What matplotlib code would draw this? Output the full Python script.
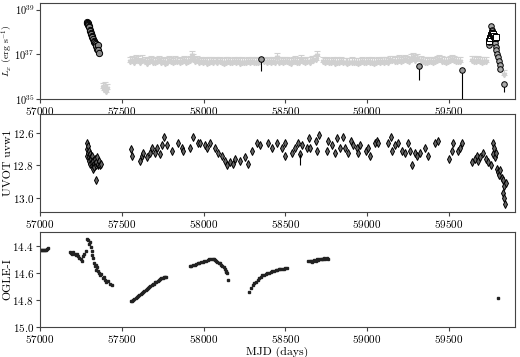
import matplotlib
matplotlib.use('Agg')
import matplotlib.pyplot as plt
import numpy as np

plt.rcParams['font.family'] = ['cmr10', 'DejaVu Serif']
plt.rcParams['mathtext.fontset'] = 'cm'
plt.rcParams['axes.formatter.use_mathtext'] = True
plt.rcParams['font.size'] = 8.5

# ---- X-ray (top) ----
# early outburst detections, log10 L
xr1_mjd = [57287, 57289, 57291, 57293, 57295, 57297, 57300, 57303, 57306, 57309, 57312,
           57316, 57320, 57324, 57328, 57332, 57336, 57340, 57344, 57348, 57352, 57356, 57362]
xr1_logL = [38.45, 38.40, 38.42, 38.35, 38.30, 38.25, 38.20, 38.10, 38.05, 37.95, 37.90,
            37.80, 37.75, 37.70, 37.60, 37.55, 37.50, 37.45, 37.35, 37.25, 37.40, 37.20, 37.05]

# isolated detections with long error bars
iso_mjd = [58351, 59317, 59580]
iso_logL = [36.80, 36.48, 36.30]
iso_lo = [36.26, 35.85, 35.0]

# late outburst circles
xr2_mjd = [59743, 59745, 59760, 59763, 59766, 59770, 59775, 59780, 59785, 59790, 59795,
           59800, 59805, 59810, 59815, 59836]
xr2_logL = [37.40, 37.55, 38.25, 38.10, 38.02, 37.80, 37.65, 37.50, 37.33, 37.18, 37.03,
            36.88, 36.70, 36.54, 36.36, 35.67]
xr2_lo = [None] * 15 + [35.33]

# late outburst squares
sq_mjd = [59745, 59750, 59756, 59762, 59768, 59775, 59782, 59790]
sq_logL = [37.60, 37.73, 37.88, 37.95, 37.90, 37.80, 37.73, 37.78]

# upper limits (units of 1e36 erg/s)
ul_mjd = [57385, 57392, 57398, 57404, 57410,
          57550, 57562, 57575, 57588, 57600, 57613, 57625, 57640, 57652, 57665, 57678, 57690,
          57703, 57716, 57728, 57740, 57752, 57765, 57778, 57790, 57803, 57815, 57828, 57840,
          57853, 57866, 57878, 57890, 57903, 57915, 57927, 57935, 57948, 57960, 57973, 57985,
          57998, 58010, 58022, 58035, 58048, 58060, 58073, 58085, 58098, 58110, 58122, 58135,
          58148, 58160, 58173, 58185, 58198, 58210, 58222, 58235, 58248, 58260, 58273, 58285,
          58298, 58310, 58323, 58335, 58348, 58372, 58385, 58397, 58410, 58422, 58435, 58448,
          58460, 58472, 58485, 58498, 58510, 58523, 58535, 58548, 58560, 58573, 58585, 58598,
          58610, 58622, 58635, 58648, 58660, 58672, 58685, 58693, 58730, 58742, 58755, 58768,
          58780, 58792, 58805, 58818, 58830, 58842, 58855, 58868, 58880, 58892, 58905, 58918,
          58930, 58942, 58955, 58968, 58980, 58992, 59005, 59018, 59030, 59042, 59055, 59068,
          59080, 59092, 59105, 59118, 59130, 59142, 59155, 59168, 59180, 59192, 59205, 59218,
          59230, 59242, 59255, 59268, 59280, 59292, 59305, 59330, 59342, 59355, 59368, 59380,
          59392, 59405, 59418, 59430, 59442, 59455, 59468, 59480, 59492, 59505, 59518, 59530,
          59542, 59555, 59568, 59640, 59652, 59665, 59678, 59690, 59703, 59715, 59728, 59836]
ul_val = [0.30, 0.25, 0.35, 0.20, 0.28,
          4.5, 5.0, 4.2, 5.5, 4.8, 4.0, 5.2, 4.6, 3.8, 4.4, 5.0, 4.2,
          3.9, 4.5, 4.8, 4.1, 4.6, 3.8, 4.2, 4.9, 4.4, 3.9, 4.7, 4.3,
          4.0, 4.6, 5.1, 4.2, 4.5, 5.0, 8.5, 6.0, 4.3, 4.8, 3.9, 4.4,
          4.1, 4.6, 3.8, 4.2, 4.5, 4.0, 4.3, 3.9, 4.4, 4.1, 3.8, 4.2,
          4.5, 4.0, 3.9, 4.3, 4.1, 4.4, 3.8, 4.2, 4.0, 3.9, 4.3, 4.1,
          4.4, 4.0, 4.2, 3.9, 4.5, 4.4, 4.1, 4.6, 4.0, 4.3, 4.1, 6.5,
          4.2, 4.5, 3.9, 4.3, 4.6, 4.1, 3.8, 4.4, 4.7, 4.0, 4.2, 5.5,
          4.3, 4.0, 4.6, 4.2, 4.8, 5.0, 5.5, 8.0, 4.4, 4.0, 4.3, 3.9,
          4.1, 4.4, 3.8, 4.2, 4.0, 4.3, 3.9, 4.1, 3.8, 4.0, 4.2, 3.9,
          4.1, 3.8, 4.0, 4.3, 3.9, 4.1, 4.4, 4.0, 4.2, 3.8, 4.1, 4.3,
          3.9, 4.5, 4.2, 4.6, 4.0, 4.8, 5.0, 4.4, 4.7, 5.2, 4.5, 4.9,
          5.5, 5.0, 4.6, 5.8, 6.5, 5.2, 6.0, 4.8, 4.4, 4.2, 4.0, 4.5,
          4.3, 4.1, 4.6, 4.9, 5.3, 4.7, 4.4, 4.2, 4.6, 5.0, 5.5, 4.8,
          4.5, 4.3, 4.6, 5.0, 4.7, 4.4, 4.9, 4.5, 4.2, 4.6, 4.3, 1.2]

# ---- UVOT uvw1 (middle) ----
uv_mjd = [57285, 57288, 57290, 57292, 57295, 57297, 57300, 57302, 57305, 57308, 57310,
          57313, 57316, 57318, 57320, 57323, 57326, 57330, 57333, 57336, 57340, 57344,
          57348, 57352, 57356, 57360, 57365, 57370, 57340,
          57556, 57562, 57611, 57623, 57630, 57653, 57672, 57684, 57703, 57715, 57733,
          57745, 57758, 57776, 57806, 57843, 57868, 57874, 57917, 57935, 57966, 57978,
          58008, 58020, 58039, 58069, 58088, 58112, 58130, 58142, 58161, 58179, 58191,
          58222, 58252, 58271, 58295, 58326, 58345, 58394, 58418, 58448, 58479, 58497,
          58497, 58540, 58558, 58577, 58589, 58601, 58632, 58644, 58650, 58687, 58693,
          58705, 58754, 58760, 58784, 58803, 58815, 58833, 58851, 58864, 58882, 58900,
          58913, 58937, 58943, 58955, 58992, 59004, 59016, 59047, 59059, 59065, 59126,
          59145, 59151, 59169, 59188, 59212, 59230, 59249, 59261, 59273, 59292, 59304,
          59322, 59353, 59371, 59414, 59432, 59499, 59518, 59524, 59555, 59567, 59579,
          59640, 59658, 59670, 59676, 59689, 59707, 59725, 59737, 59756, 59768, 59768,
          59774, 59780, 59786, 59792, 59798, 59805, 59811, 59823, 59829, 59835, 59829,
          59835, 59841, 59847]
uv_mag = [12.74, 12.70, 12.66, 12.72, 12.68, 12.75, 12.71, 12.77, 12.73, 12.79, 12.75,
          12.76, 12.80, 12.74, 12.78, 12.82, 12.77, 12.79, 12.81, 12.76, 12.80, 12.78,
          12.75, 12.80, 12.79, 12.77, 12.80, 12.79, 12.89,
          12.70, 12.74, 12.77, 12.74, 12.72, 12.75, 12.72, 12.69, 12.72, 12.69, 12.73,
          12.675, 12.625, 12.675, 12.71, 12.66, 12.69, 12.71, 12.69, 12.625, 12.66, 12.66,
          12.675, 12.69, 12.66, 12.69, 12.72, 12.74, 12.77, 12.80, 12.78, 12.79, 12.76,
          12.77, 12.75, 12.79, 12.71, 12.66, 12.675, 12.66, 12.69, 12.66, 12.69, 12.66,
          12.74, 12.72, 12.69, 12.66, 12.73, 12.675, 12.69, 12.63, 12.69, 12.645, 12.71,
          12.61, 12.71, 12.645, 12.675, 12.72, 12.63, 12.69, 12.625, 12.69, 12.72, 12.645,
          12.675, 12.69, 12.72, 12.675, 12.71, 12.69, 12.74, 12.66, 12.645, 12.66, 12.66,
          12.625, 12.71, 12.675, 12.66, 12.71, 12.72, 12.66, 12.71, 12.80, 12.72, 12.74,
          12.72, 12.69, 12.74, 12.66, 12.645, 12.76, 12.71, 12.66, 12.71, 12.69, 12.66,
          12.78, 12.76, 12.74, 12.77, 12.75, 12.72, 12.76, 12.78, 12.80, 12.66, 12.73,
          12.69, 12.75, 12.72, 12.82, 12.84, 12.86, 12.83, 12.88, 12.89, 12.925, 12.97,
          13.00, 13.04, 12.91]

# ---- OGLE-I (bottom) ----
og_mjd = [57002, 57008, 57014, 57020, 57026, 57032, 57038, 57044, 57050,
          57183, 57190, 57197, 57204, 57211, 57218, 57225, 57232, 57240, 57248, 57256,
          57262, 57270, 57278, 57290, 57295, 57300, 57305, 57310, 57315, 57320, 57325,
          57330, 57335, 57340, 57345, 57350, 57355, 57360, 57368, 57375, 57382, 57390,
          57398, 57405, 57415, 57425, 57438,
          57555, 57562, 57570, 57577, 57585, 57592, 57600, 57607, 57615, 57622, 57630,
          57637, 57645, 57652, 57660, 57667, 57675, 57682, 57690, 57697, 57705, 57712,
          57720, 57727, 57735, 57742, 57750, 57757, 57765, 57772,
          57915, 57925, 57935, 57945, 57955, 57965, 57975, 57985, 57995, 58005, 58015,
          58025, 58035, 58045, 58055, 58062, 58070, 58078, 58085, 58092, 58100, 58108,
          58115, 58122, 58128, 58135, 58140, 58145, 58148,
          58280, 58292, 58300, 58310, 58320, 58330, 58340, 58350, 58360, 58370, 58380,
          58390, 58400, 58410, 58420, 58430, 58440, 58450, 58460, 58470, 58480, 58490,
          58500, 58510,
          58640, 58648, 58655, 58662, 58670, 58678, 58685, 58692, 58700, 58708, 58715,
          58722, 58730, 58738, 58745, 58752, 58760,
          59800]
og_mag = [14.43, 14.435, 14.43, 14.435, 14.43, 14.435, 14.43, 14.425, 14.42,
          14.45, 14.455, 14.46, 14.45, 14.465, 14.47, 14.46, 14.48, 14.49, 14.50, 14.51,
          14.48, 14.46, 14.44, 14.35, 14.36, 14.39, 14.37, 14.41, 14.44, 14.47, 14.49,
          14.53, 14.55, 14.54, 14.58, 14.56, 14.59, 14.60, 14.62, 14.61, 14.64, 14.63,
          14.65, 14.67, 14.66, 14.68, 14.69,
          14.81, 14.805, 14.80, 14.79, 14.785, 14.78, 14.77, 14.765, 14.755, 14.75, 14.74,
          14.735, 14.725, 14.72, 14.71, 14.705, 14.70, 14.69, 14.685, 14.68, 14.67, 14.665,
          14.66, 14.65, 14.645, 14.64, 14.64, 14.635, 14.63, 14.635,
          14.55, 14.55, 14.545, 14.54, 14.535, 14.53, 14.525, 14.52, 14.52, 14.515, 14.51,
          14.505, 14.50, 14.50, 14.495, 14.50, 14.505, 14.51, 14.52, 14.525, 14.53, 14.54,
          14.55, 14.56, 14.575, 14.585, 14.595, 14.60, 14.65,
          14.74, 14.71, 14.69, 14.675, 14.665, 14.65, 14.64, 14.63, 14.62, 14.615, 14.61,
          14.605, 14.60, 14.595, 14.59, 14.585, 14.58, 14.58, 14.575, 14.575, 14.57, 14.57,
          14.565, 14.565,
          14.51, 14.515, 14.51, 14.52, 14.51, 14.505, 14.51, 14.50, 14.505, 14.50, 14.495,
          14.50, 14.495, 14.49, 14.495, 14.49, 14.495,
          14.785]

fig = plt.figure(figsize=(5.2, 3.57), dpi=100)
ax1 = fig.add_axes([0.077, 0.723, 0.913, 0.269])
ax2 = fig.add_axes([0.077, 0.406, 0.913, 0.2745])
ax3 = fig.add_axes([0.077, 0.084, 0.913, 0.266])
spine_col = '#444444'

# top: upper limits
ul = np.array(ul_val) * 1e36
ax1.errorbar(ul_mjd, ul, yerr=[np.zeros_like(ul), ul * 0.7], fmt='v', ms=3.2,
             color='#d0d0d0', mec='#d0d0d0', elinewidth=0.8, capsize=2, capthick=0.8, zorder=1)
# isolated detections
iso = 10 ** np.array(iso_logL)
ax1.errorbar(iso_mjd, iso, yerr=[iso - 10 ** np.array(iso_lo), np.zeros(3)], fmt='o', ms=4,
             mfc='#999999', mec='black', mew=0.7, ecolor='black', elinewidth=0.8, zorder=3)
# early outburst
ax1.plot(xr1_mjd, 10 ** np.array(xr1_logL), 'o', ms=4.5, mfc='#888888', mec='black', mew=0.7, zorder=3)
# late outburst
l2 = 10 ** np.array(xr2_logL)
ax1.plot(sq_mjd, 10 ** np.array(sq_logL), 's', ms=5, mfc='white', mec='black', mew=0.7, zorder=4)
ax1.plot(xr2_mjd, l2, 'o', ms=4, mfc='#aaaaaa', mec='black', mew=0.7, zorder=3)
ax1.errorbar([xr2_mjd[-1]], [l2[-1]], yerr=[[l2[-1] - 10 ** xr2_lo[-1]], [0]], fmt='none',
             ecolor='black', elinewidth=0.8, zorder=2)
ax1.set_yscale('log')
ax1.set_ylim(1e35, 2e39)
ax1.set_yticks([1e35, 1e37, 1e39])
ax1.minorticks_off()
ax1.set_ylabel(r'$L_x$ (erg s$^{-1}$)', fontsize=7)

# middle: UVOT
ax2.plot(uv_mjd, uv_mag, 'd', ms=4, mfc='#666666', mec='black', mew=0.7)
ax2.errorbar([58589], [12.73], yerr=[[0], [0.07]], fmt='none', ecolor='black', elinewidth=0.8)
ax2.set_ylim(13.09, 12.48)
ax2.set_yticks([12.6, 12.8, 13.0])
ax2.set_ylabel('UVOT uvw1')

# bottom: OGLE
ax3.plot(og_mjd, og_mag, 's', ms=2.0, color='#222222')
ax3.set_ylim(15.0, 14.3)
ax3.set_yticks([14.4, 14.6, 14.8, 15.0])
ax3.set_ylabel('OGLE-I')
ax3.set_xlabel('MJD (days)', labelpad=1)

for ax in (ax1, ax2, ax3):
    ax.set_xlim(57000, 59903)
    ax.set_xticks([57000, 57500, 58000, 58500, 59000, 59500])
    ax.tick_params(direction='out', length=3, width=0.8, color=spine_col, labelsize=8, pad=1.5)
    ax.yaxis.set_label_coords(-0.058, 0.5)
    for s in ax.spines.values():
        s.set_color(spine_col)
        s.set_linewidth(0.8)
ax1.tick_params(axis='y', labelsize=7.5, pad=1)
ax1.yaxis.set_label_coords(-0.052, 0.5)

fig.savefig('out.png', dpi=100)
